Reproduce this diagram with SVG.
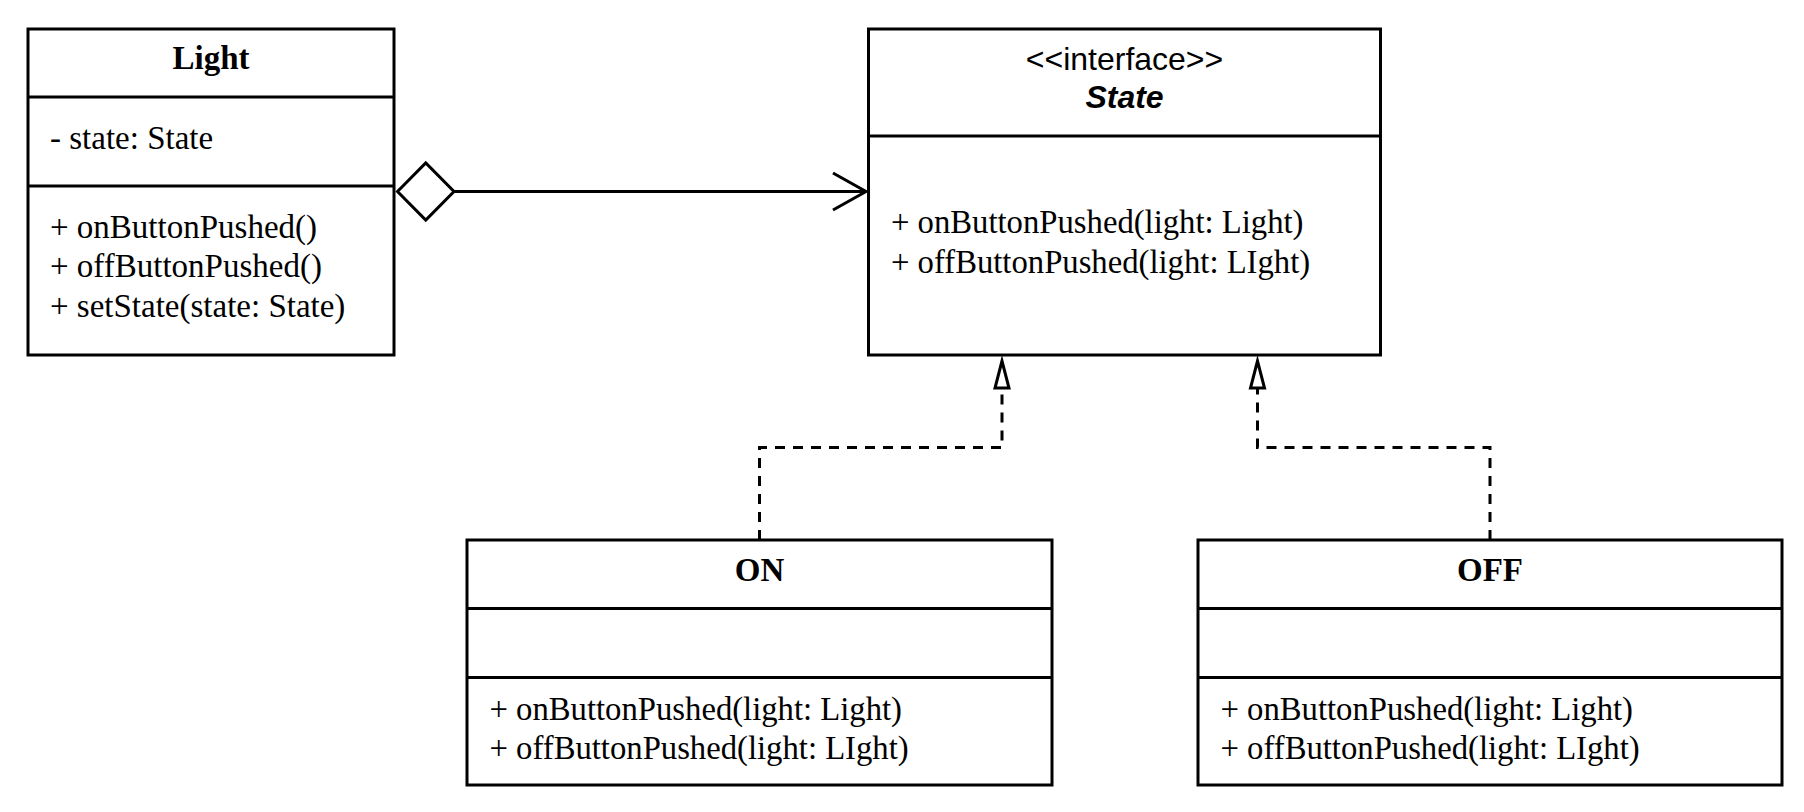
<svg xmlns="http://www.w3.org/2000/svg" width="1804" height="812" viewBox="0 0 1804 812">
<style>
.box{fill:#fff;stroke:#000;stroke-width:3}
.div{stroke:#000;stroke-width:3}
.t{font-family:"Liberation Serif","Times New Roman",serif;font-size:33px;fill:#000}
.m{font-family:"Liberation Serif","Times New Roman",serif;font-size:32.7px;fill:#000}
.tb{font-family:"Liberation Serif","Times New Roman",serif;font-size:33px;font-weight:bold;fill:#000;text-anchor:middle}
.s{font-family:"Liberation Sans",Arial,sans-serif;font-size:32px;fill:#000;text-anchor:middle}
.edge{fill:none;stroke:#000;stroke-width:3}
.dash{stroke-dasharray:10 8}
</style>
<rect width="1804" height="812" fill="#fff"/>
<g id="connectors">
  <path class="edge" d="M454 191.5 H866"/>
  <polygon class="edge" points="397.5,191.5 425.75,163 454,191.5 425.75,220" style="fill:#fff"/>
  <path class="edge" d="M833 173 L866 191.5 L833 210"/>
  <path class="edge dash" d="M759.5 540 V447.5 H1002 V389"/>
  <polygon class="edge" points="1002,361 995,388 1009,388" style="fill:#fff"/>
  <path class="edge dash" d="M1490 540 V447.5 H1257.5 V389"/>
  <polygon class="edge" points="1257.5,361 1250.5,388 1264.5,388" style="fill:#fff"/>
</g>
<g id="light">
  <rect class="box" x="28" y="29" width="366" height="326"/>
  <line class="div" x1="28" y1="97" x2="394" y2="97"/>
  <line class="div" x1="28" y1="186" x2="394" y2="186"/>
  <text class="tb" x="211" y="69">Light</text>
  <text class="t" x="50" y="149">- state: State</text>
  <text class="t" x="50" y="238">+ onButtonPushed()</text>
  <text class="t" x="50" y="277">+ offButtonPushed()</text>
  <text class="t" x="50" y="317">+ setState(state: State)</text>
</g>
<g id="state">
  <rect class="box" x="868.5" y="29" width="512" height="326"/>
  <line class="div" x1="868.5" y1="136" x2="1380.5" y2="136"/>
  <text class="s" x="1124.5" y="70">&lt;&lt;interface&gt;&gt;</text>
  <text class="s" x="1124.5" y="108" font-weight="bold" font-style="italic">State</text>
  <text class="m" x="891" y="233">+ onButtonPushed(light: Light)</text>
  <text class="m" x="891" y="272.5">+ offButtonPushed(light: LIght)</text>
</g>
<g id="on">
  <rect class="box" x="467" y="540" width="585" height="245"/>
  <line class="div" x1="467" y1="608.5" x2="1052" y2="608.5"/>
  <line class="div" x1="467" y1="677.5" x2="1052" y2="677.5"/>
  <text class="tb" x="759.5" y="581">ON</text>
  <text class="m" x="489.5" y="720">+ onButtonPushed(light: Light)</text>
  <text class="m" x="489.5" y="759">+ offButtonPushed(light: LIght)</text>
</g>
<g id="off">
  <rect class="box" x="1198" y="540" width="584" height="245"/>
  <line class="div" x1="1198" y1="608.5" x2="1782" y2="608.5"/>
  <line class="div" x1="1198" y1="677.5" x2="1782" y2="677.5"/>
  <text class="tb" x="1490" y="581">OFF</text>
  <text class="m" x="1220.5" y="720">+ onButtonPushed(light: Light)</text>
  <text class="m" x="1220.5" y="759">+ offButtonPushed(light: LIght)</text>
</g>
</svg>
